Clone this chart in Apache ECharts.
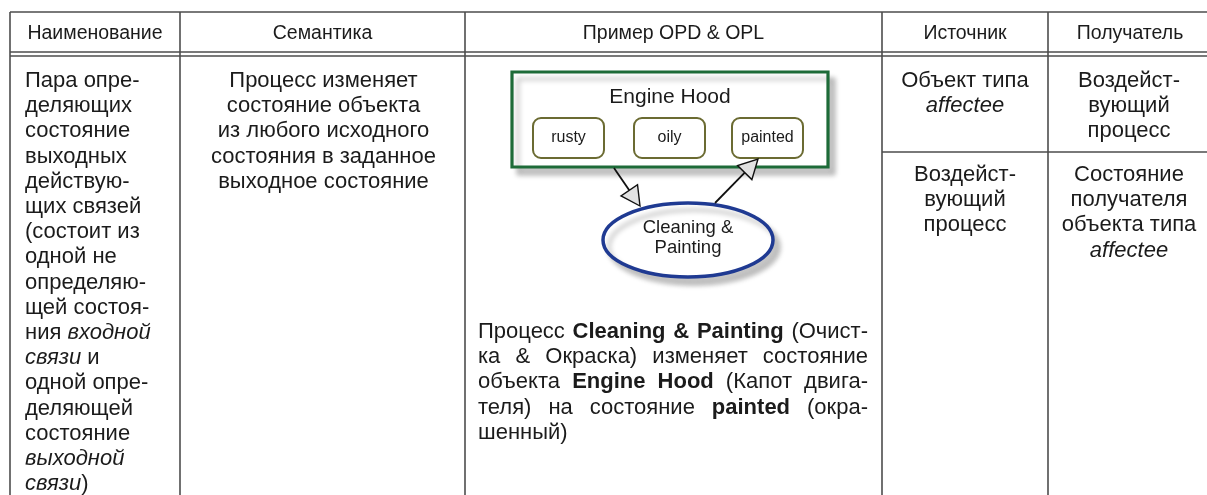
<!DOCTYPE html>
<html><head><meta charset="utf-8">
<script src="https://cdn.jsdelivr.net/npm/echarts@6/dist/echarts.min.js"></script>
<style>html,body{margin:0;padding:0;background:#fff;overflow:hidden}#c{width:1207px;height:495px}</style>
</head><body><div id="c"></div><script>
// ---- content ----
const headers = ['Наименование', 'Семантика', 'Пример OPD & OPL', 'Источник', 'Получатель'];
const nameLines = ['Пара опре-', 'деляющих', 'состояние', 'выходных', 'действую-', 'щих связей',
  '(состоит из', 'одной не', 'определяю-', 'щей состоя-', 'ния {i|входной}', '{i|связи} и',
  'одной опре-', 'деляющей', 'состояние', '{i|выходной}', '{i|связи})'];
const semanticsLines = ['Процесс изменяет', 'состояние объекта', 'из любого исходного',
  'состояния в заданное', 'выходное состояние'];
const sourceCells = [['Объект типа', '{i|affectee}'], ['Воздейст-', 'вующий', 'процесс']];
const targetCells = [['Воздейст-', 'вующий', 'процесс'], ['Состояние', 'получателя', 'объекта типа', '{i|affectee}']];
const objectName = 'Engine Hood';
const states = ['rusty', 'oily', 'painted'];
const processName = ['Cleaning &', 'Painting'];
const oplLines = [
  'Процесс {b|Cleaning} {b|&} {b|Painting} (Очист-',
  'ка & Окраска) изменяет состояние',
  'объекта {b|Engine} {b|Hood} (Капот двига-',
  'теля) на состояние {b|painted} (окра-',
  'шенный)'
];

// ---- layout ----
const FONT = '"Liberation Sans", Arial, sans-serif';
const TXT = '#1b1b1b';
const LINE = '#4d4d4d';
const cols = [10, 180, 465, 882, 1048, 1212];
const topY = 12, hdrY = 34, dblY1 = 52, dblY2 = 56, rowSplitY = 152, bottomY = 495;
const bodyY0 = 81, step = 25.2, bodySize = 22, hdrSize = 19.5;
const rich = {
  i: { fontStyle: 'italic', fontSize: bodySize, fontFamily: FONT, fill: TXT },
  b: { fontWeight: 'bold', fontSize: bodySize, fontFamily: FONT, fill: TXT }
};
const g = [];
function line(x1, y1, x2, y2, w, c) {
  g.push({ type: 'line', shape: { x1, y1, x2, y2 }, style: { stroke: c || LINE, lineWidth: w || 1.6 } });
}
function text(t, x, y, size, align, extra) {
  g.push({ type: 'text', x, y, style: Object.assign({ text: t, fontSize: size, fontFamily: FONT, fill: TXT,
    align: align || 'left', verticalAlign: 'middle', rich }, extra || {}) });
}
// grid lines
line(cols[0], topY, 1207, topY);
line(cols[0], dblY1, 1207, dblY1);
line(cols[0], dblY2, 1207, dblY2);
cols.slice(0, 5).forEach(x => line(x, topY, x, bottomY));
line(cols[3], rowSplitY, 1207, rowSplitY);
// headers
headers.forEach((h, i) => text(h, (cols[i] + cols[i + 1]) / 2, hdrY, hdrSize, 'center'));
// column 1
nameLines.forEach((t, i) => text(t, 25, bodyY0 + i * step, bodySize, 'left'));
// column 2
semanticsLines.forEach((t, i) => text(t, (cols[1] + cols[2]) / 2 + 1, bodyY0 + i * step, bodySize, 'center'));
// columns 4, 5
const row2Y0 = 175;
sourceCells[0].forEach((t, i) => text(t, (cols[3] + cols[4]) / 2, bodyY0 + i * step, bodySize, 'center'));
sourceCells[1].forEach((t, i) => text(t, (cols[3] + cols[4]) / 2, row2Y0 + i * step, bodySize, 'center'));
targetCells[0].forEach((t, i) => text(t, (cols[4] + cols[5]) / 2 - 1, bodyY0 + i * step, bodySize, 'center'));
targetCells[1].forEach((t, i) => text(t, (cols[4] + cols[5]) / 2 - 1, row2Y0 + i * step, bodySize, 'center'));

// ---- OPD diagram ----
const shadow = { shadowColor: 'rgba(0,0,0,0.22)', shadowBlur: 5, shadowOffsetX: 6, shadowOffsetY: 7 };
g.push({ type: 'rect', shape: { x: 512, y: 72, width: 316, height: 95 },
  style: Object.assign({ fill: '#fff', stroke: '#1d6b38', lineWidth: 3.2 }, shadow) });
text(objectName, 670, 97, 21, 'center');
const stateX = [533, 634, 732];
states.forEach((s, i) => {
  g.push({ type: 'rect', shape: { x: stateX[i], y: 118, width: 71, height: 40, r: 8 },
    style: { fill: '#fff', stroke: '#6b6b32', lineWidth: 2 } });
  text(s, stateX[i] + 35.5, 138, 16, 'center');
});
g.push({ type: 'ellipse', shape: { cx: 688, cy: 240, rx: 85, ry: 37 },
  style: Object.assign({ fill: '#fff', stroke: '#1f3a92', lineWidth: 3.5 }, shadow) });
text(processName[0], 688, 228, 18.5, 'center');
text(processName[1], 688, 248, 18.5, 'center');
function arrow(x1, y1, x2, y2) {
  const dx = x2 - x1, dy = y2 - y1, L = Math.hypot(dx, dy), ux = dx / L, uy = dy / L;
  const hl = 19, hw = 10;
  const bx = x2 - ux * hl, by = y2 - uy * hl;
  line(x1, y1, bx, by, 1.8, '#111');
  g.push({ type: 'polygon', shape: { points: [[x2, y2], [bx - uy * hw, by + ux * hw], [bx + uy * hw, by - ux * hw]] },
    style: { fill: '#e2e2e2', stroke: '#111', lineWidth: 1.4 } });
}
arrow(614, 168, 640, 206);
arrow(715, 203, 758, 159);

// ---- OPL paragraph (justified) ----
const ctx = document.createElement('canvas').getContext('2d');
const pL = 478, pR = 868, pY0 = 332, pStep = 25.2;
oplLines.forEach((ln, li) => {
  const words = ln.split(' ').map(w => {
    const m = w.match(/^\{b\|(.*)\}$/);
    return m ? { t: m[1], b: true } : { t: w, b: false };
  });
  words.forEach(w => {
    ctx.font = (w.b ? 'bold ' : '') + bodySize + 'px ' + FONT;
    w.w = ctx.measureText(w.t).width;
  });
  const total = words.reduce((s, w) => s + w.w, 0);
  ctx.font = bodySize + 'px ' + FONT;
  const last = li === oplLines.length - 1;
  const gap = last ? ctx.measureText(' ').width : (pR - pL - total) / (words.length - 1);
  let x = pL;
  words.forEach(w => {
    text(w.t, x, pY0 + li * pStep, bodySize, 'left', w.b ? { fontWeight: 'bold' } : {});
    x += w.w + gap;
  });
});

const chart = echarts.init(document.getElementById('c'), null, { renderer: 'canvas' });
chart.setOption({ backgroundColor: '#fff', animation: false, graphic: { elements: g } });
</script></body></html>
